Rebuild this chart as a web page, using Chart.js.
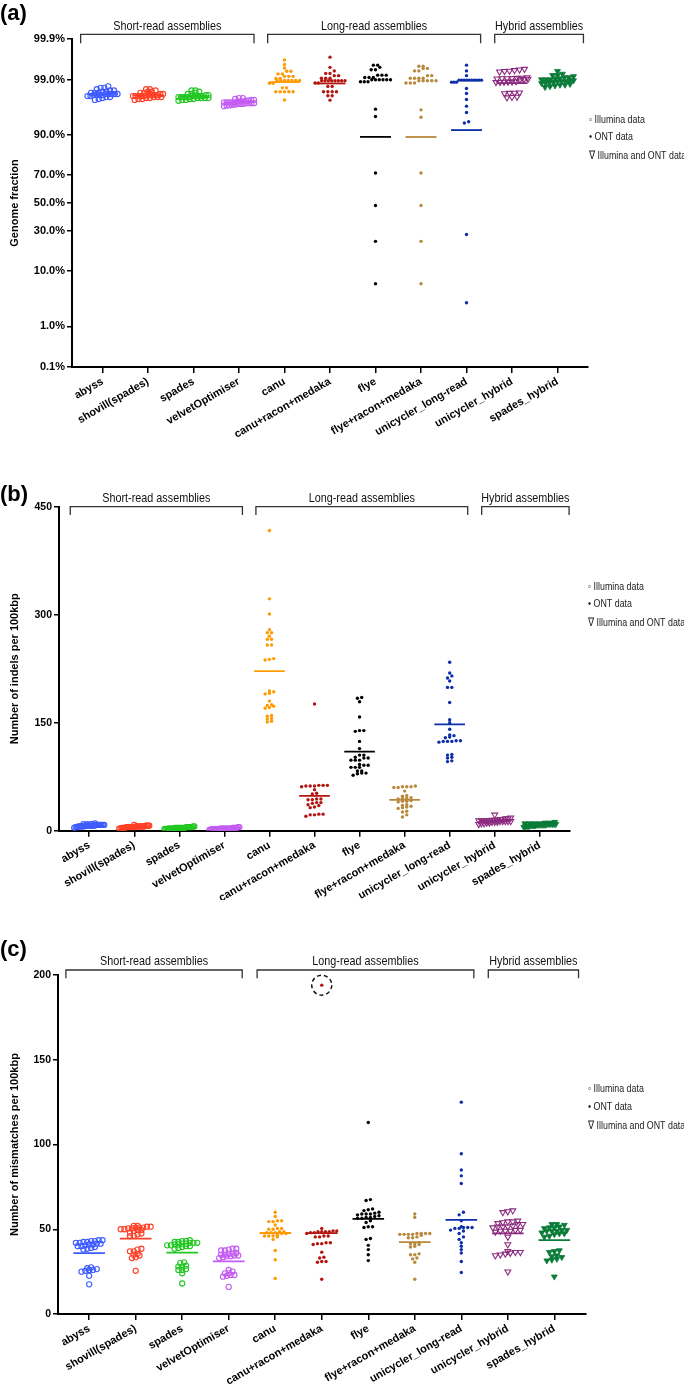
<!DOCTYPE html>
<html><head><meta charset="utf-8">
<script src="https://cdn.jsdelivr.net/npm/chart.js@4.4.1/dist/chart.umd.min.js"></script>
<style>
html,body{margin:0;padding:0;background:#fff;}
canvas{display:block;}
</style></head>
<body>
<canvas id="cA" width="684" height="455"></canvas>
<canvas id="cB" width="684" height="445"></canvas>
<canvas id="cC" width="684" height="485"></canvas>
<script>
// ---------------- DATA ----------------
const categories = ['abyss','shovill(spades)','spades','velvetOptimiser','canu','canu+racon+medaka','flye','flye+racon+medaka','unicycler_long-read','unicycler_hybrid','spades_hybrid'];
const groupLabels = ['Short-read assemblies','Long-read assemblies','Hybrid assemblies'];
const legendLabels = ['\u25E6 Illumina data','\u2022 ONT data','\u2207 Illumina and ONT data'];

// (a) genome fraction, %
const fractionTicks = [0.1, 1, 10, 30, 50, 70, 90, 99, 99.9];
const fractionTickLabels = ['0.1%','1.0%','10.0%','30.0%','50.0%','70.0%','90.0%','99.0%','99.9%'];
const fracAbyss = [98.6,98.5,98.5,98.4,98.3,98.3,98.2,98.2,98.1,98.1,98.1,98.0,98.0,98.0,98.0,98.0,97.9,97.9,97.9,97.9,97.8,97.8,97.7,97.7,97.6,97.5,97.4];
const fracShovill = [98.4,98.4,98.3,98.2,98.2,98.1,98.1,98.0,98.0,97.9,97.9,97.9,97.9,97.9,97.8,97.8,97.8,97.8,97.8,97.7,97.7,97.7,97.6,97.6,97.5,97.5,97.4];
const fracSpades = [98.3,98.3,98.2,98.1,98.0,98.0,97.9,97.9,97.8,97.8,97.8,97.8,97.8,97.7,97.7,97.7,97.7,97.7,97.6,97.6,97.6,97.6,97.5,97.5,97.4,97.4,97.3];
const fracVelvet = [97.6,97.6,97.5,97.4,97.4,97.3,97.3,97.2,97.2,97.2,97.1,97.1,97.1,97.1,97.1,97.0,97.0,97.0,97.0,96.9,96.9,96.9,96.8,96.8,96.7,96.7,96.6];
const fracCanu = [99.65,99.55,99.45,99.35,99.35,99.25,99.25,99.15,99.15,99.15,99.05,99.05,98.95,98.95,98.95,98.95,98.95,98.95,98.95,98.8,98.8,98.5,98.5,98.2,98.2,98.2,98.2,98.2,97.4];
const fracCanuRacon = [99.7,99.47,99.36,99.27,99.27,99.18,99.18,99.06,99.06,99.06,98.94,98.94,98.94,98.94,98.94,98.94,98.94,98.94,98.81,98.81,98.6,98.6,98.2,98.2,98.2,98.2,97.83,97.83,97.37];
const fracFlye = [99.53,99.53,99.47,99.4,99.4,99.2,99.2,99.2,99.1,99.1,99.1,98.99,98.99,98.99,98.99,98.99,98.99,98.88,98.88,98.88,96.15,94.85,71.4,48.1,23.5,6.4];
const fracFlyeRacon = [99.5,99.5,99.44,99.44,99.36,99.36,99.18,99.18,99.06,99.06,99.06,99.06,98.94,98.94,98.94,98.94,98.94,98.81,98.81,98.81,96.04,94.7,71.4,48.1,23.5,6.4];
const fracUnicyclerLong = [99.53,99.36,99.18,98.97,98.97,98.97,98.97,98.97,98.97,98.97,98.97,98.97,98.97,98.86,98.86,98.86,98.45,98.05,97.45,96.6,95.6,93.7,93.4,27.6,3.0];
const fracUnicyclerHybrid = [99.42,99.4,99.38,99.36,99.35,99.33,99.1,99.08,99.07,99.06,99.05,99.05,99.04,99.03,99.02,99.0,98.9,98.89,98.88,98.87,98.86,98.85,98.12,98.1,98.08,98.05,97.72,97.7,97.65];
const fracSpadesHybrid = [99.35,99.25,99.2,99.2,99.15,99.1,99.1,99.05,99.05,99.0,99.0,99.0,98.95,98.95,98.9,98.9,98.9,98.85,98.85,98.8,98.8,98.75,98.7,98.7,98.65,98.6,98.55];

// (b) indels per 100 kbp
const indelTicks = [0, 150, 300, 450];
const indelAbyss = [10,9,9,9,8,8,8,8,8,8,8,7,7,7,7,7,7,7,7,6,6,6,6,6,5,5,4];
const indelShovill = [8,7,7,7,7,6,6,6,6,6,6,6,6,5,5,5,5,5,5,5,5,4,4,4,4,3,3];
const indelSpades = [6,6,5,5,5,5,5,5,4,4,4,4,4,4,4,4,4,4,3,3,3,3,3,3,2,2,2];
const indelVelvet = [5,5,4,4,4,4,4,3,3,3,3,3,3,3,3,3,3,3,2,2,2,2,2,2,2,1,1];
const indelCanu = [417,322,301,279,275,275,270,266,266,258,258,239,238,237,194,193,191,190,180,175,174,173,171,170,160,159,156,155,152,151];
const indelCanuRacon = [176,63,63,63,62,62,62,61,57,52,51,44,44,43,43,39,39,38,36,35,33,32,23,23,22,22,20];
const indelFlye = [185,184,179,158,139,139,138,124,114,105,105,102,101,101,98,98,98,92,91,91,88,88,88,83,83,80,80,79,77];
const indelFlyeRacon = [62,61,61,61,60,60,55,49,48,46,45,45,44,42,41,41,40,36,35,34,33,32,31,27,26,22,19];
const indelUnicyclerLong = [234,219,215,212,208,199,199,178,154,150,141,133,132,130,129,125,125,124,124,124,123,106,105,102,101,97,96];
const indelUnicyclerHybrid = [22,18,17,17,16,16,15,15,15,14,14,14,14,14,13,13,13,13,13,12,12,12,11,11,10,10,9];
const indelSpadesHybrid = [12,11,11,10,10,10,10,9,9,9,9,9,9,8,8,8,8,8,8,7,7,7,7,6,6,6,5];

// (c) mismatches per 100 kbp
const mismatchTicks = [0, 50, 100, 150, 200];
const mismAbyss = [43.5,43.5,43,43,42.5,42.5,42,42,41.5,41.5,41,41,40.5,40,40,39.5,39,38.5,38,27.5,27,26.5,26,26,25.5,25,22.5,17.5];
const mismShovill = [52,52,51.5,51.5,51,51,51,50.5,50.5,50,50,49.5,49.5,49,48,47.5,47,46,46,38.5,38,37,37,35.5,35,34.5,33.5,33,25.5];
const mismSpades = [43.5,43,43,42.5,42.5,42,42,42,41.5,41.5,41,41,40.5,40.5,40,40,39.5,39,38.5,30.5,30,28.5,28,28,26.5,26,26,24,18];
const mismVelvet = [38.5,38.5,38,37.5,37.5,36,35.5,35.5,35,35,34.5,34.5,34,34,33.5,33,26,25,24,24,23,23,22.5,22,16];
const mismCanu = [60,57.5,55,55,54.5,54.5,52.5,50.5,50.5,50,50,48.5,48.5,48,48,48,47.5,47.5,46.5,46,46,46,45.5,44,37.5,32,21];
const mismCanuRacon = [194,50.5,49,49,48.5,48.5,48.5,48.5,48,48,47.5,46,46,45.5,45.5,42,42,41.5,41.5,41,36.5,33.5,33,31,31,30.5,20.5];
const mismFlye = [113,67.5,67,62,61.5,61,60,59.5,59,59,59,58.5,58,57.5,57,57,56.5,56.5,55,54,51.5,51.5,51,44.5,44,40.5,38,35,31.5];
const mismFlyeRacon = [59,57,47.5,47.5,47.5,47.5,47,47,47,47,46.5,45.5,45,45,42,41.5,41.5,41,40,39.5,35.5,35,35,33,32.5,30.5,20.5];
const mismUnicyclerLong = [125,94.5,85,81.5,77,60,58.5,55,51.5,51,51,51,50.5,50.5,49.5,49,47.5,45.5,44,42,40,38,36,31,24.5];
const mismUnicyclerHybrid = [61,60.5,60,55,54.5,54.5,54,53.5,53,53,52,51.5,51.5,51.5,51,49.5,49.5,49,49,49,48.5,45.5,41,37,36.5,36.5,36,35.5,35,34.5,25];
const mismSpadesHybrid = [53,53,52.5,51.5,51,51,50.5,49.5,49.5,49,49,49,48,47.5,47.5,47,46,45.5,37.5,37,36.5,34.5,34,33.5,32.5,32,31.5,22];

// ---------------- STYLE ----------------
const groupColors = ['#3d5bff','#ff3f25','#22c722','#c35cf2','#ff9a00','#b3150f','#000000','#b7893b','#0c2eaa','#8c2a7f','#0b7b38'];
const markerKinds = ['open','open','open','open','dot','dot','dot','dot','dot','triOpen','tri'];
const swarmCfg = {open:{h:3,s:3.8,w:30}, dot:{h:2.8,s:4.3,w:30}, triOpen:{h:3.5,s:5,w:32}, tri:{h:3.5,s:5,w:32}};
const FONT = '"Liberation Sans", Arial, Helvetica, sans-serif';
Chart.defaults.font.family = FONT;
Chart.defaults.color = '#000';

function probit(p){
  const a=[-3.969683028665376e+01,2.209460984245205e+02,-2.759285104469687e+02,1.383577518672690e+02,-3.066479806614716e+01,2.506628277459239e+00];
  const b=[-5.447609879822406e+01,1.615858368580409e+02,-1.556989798598866e+02,6.680131188771972e+01,-1.328068155288572e+01];
  const c=[-7.784894002430293e-03,-3.223964580411365e-01,-2.400758277161838e+00,-2.549732539343734e+00,4.374664141464968e+00,2.938163982698783e+00];
  const d=[7.784695709041462e-03,3.224671290700398e-01,2.445134137142996e+00,3.754408661907416e+00];
  const pl=0.02425, ph=1-pl; let q,r;
  if(p<pl){q=Math.sqrt(-2*Math.log(p));return (((((c[0]*q+c[1])*q+c[2])*q+c[3])*q+c[4])*q+c[5])/((((d[0]*q+d[1])*q+d[2])*q+d[3])*q+1);}
  if(p<=ph){q=p-0.5;r=q*q;return (((((a[0]*r+a[1])*r+a[2])*r+a[3])*r+a[4])*r+a[5])*q/(((((b[0]*r+b[1])*r+b[2])*r+b[3])*r+b[4])*r+1);}
  q=Math.sqrt(-2*Math.log(1-p));return -(((((c[0]*q+c[1])*q+c[2])*q+c[3])*q+c[4])*q+c[5])/((((d[0]*q+d[1])*q+d[2])*q+d[3])*q+1);
}

const MEAN_HALF = 0.34;

function buildDatasets(series, tf){
  const ds = [];
  series.forEach((vals, i) => {
    const kind = markerKinds[i], col = groupColors[i];
    const d = {type:'scatter', data: vals.map(v => ({x:i, y:tf(v)})), swarm: swarmCfg[kind], order: 1,
      pointBorderColor: col, pointHoverRadius: 0};
    if (kind === 'open') Object.assign(d, {pointStyle:'circle', pointRadius:2.6, pointBorderWidth:1.1, pointBackgroundColor:'rgba(255,255,255,0)'});
    else if (kind === 'dot') Object.assign(d, {pointStyle:'circle', pointRadius:1.7, pointBorderWidth:0, pointBackgroundColor: col});
    else if (kind === 'triOpen') Object.assign(d, {pointStyle:'triangle', pointRotation:180, pointRadius:3.4, pointBorderWidth:1.1, pointBackgroundColor:'rgba(255,255,255,0)'});
    else Object.assign(d, {pointStyle:'triangle', pointRotation:180, pointRadius:3.4, pointBorderWidth:0.8, pointBackgroundColor: col});
    ds.push(d);
  });
  series.forEach((vals, i) => {
    const m = vals.reduce((s, v) => s + v, 0) / vals.length;
    ds.push({type:'line', data:[{x:i-MEAN_HALF, y:tf(m)}, {x:i+MEAN_HALF, y:tf(m)}], borderColor: groupColors[i],
      borderWidth:1.8, pointRadius:0, pointHoverRadius:0, fill:false, order:0});
  });
  return ds;
}

const swarmPlugin = {
  id: 'swarm',
  afterDatasetsUpdate(chart){
    chart.data.datasets.forEach((ds, di) => {
      if (!ds.swarm) return;
      const els = chart.getDatasetMeta(di).data;
      const idx = els.map((e, i) => i).sort((p, q) => els[q].y - els[p].y);
      const rows = []; let cur = []; let start = null;
      idx.forEach(i => {
        const y = els[i].y;
        if (start === null || Math.abs(y - start) > ds.swarm.h) { if (cur.length) rows.push(cur); cur = [i]; start = y; }
        else cur.push(i);
      });
      if (cur.length) rows.push(cur);
      rows.forEach(r => {
        const n = r.length;
        const s = n > 1 ? Math.min(ds.swarm.s, ds.swarm.w / (n - 1)) : 0;
        r.forEach((i, k) => { els[i].x += (k - (n - 1) / 2) * s; });
      });
    });
  }
};

// condensed text (the original uses a narrow face)
function narrowText(ctx, text, x, y, size, align, sx){
  ctx.save();
  ctx.translate(x, y);
  ctx.scale(sx, 1);
  ctx.font = size + 'px ' + FONT;
  ctx.textAlign = align;
  ctx.textBaseline = 'middle';
  ctx.fillText(text, 0, 0);
  ctx.restore();
}

function annotPlugin(p){
  return {
    id: 'annot',
    afterDraw(chart){
      const {ctx, chartArea, scales:{x}} = chart;
      ctx.save();
      ctx.fillStyle = '#000';
      ctx.textBaseline = 'middle';
      ctx.textAlign = 'left';
      ctx.font = 'bold 22px ' + FONT;
      ctx.fillText(p.label, 0, p.labelY);
      // group brackets
      p.brackets.forEach((b, k) => {
        const x0 = x.getPixelForValue(b[0]), x1 = x.getPixelForValue(b[1]);
        const y0 = chartArea.top + p.bracketDy;
        ctx.strokeStyle = '#333'; ctx.lineWidth = 1.3;
        ctx.beginPath();
        ctx.moveTo(x0, y0 + p.bracketH); ctx.lineTo(x0, y0); ctx.lineTo(x1, y0); ctx.lineTo(x1, y0 + p.bracketH);
        ctx.stroke();
        ctx.fillStyle = '#111';
        narrowText(ctx, groupLabels[k], (x0 + x1) / 2, y0 - p.textGap, 13.5, 'center', 0.8);
      });
      // legend text
      ctx.fillStyle = '#222';
      legendLabels.forEach((t, k) => narrowText(ctx, t, p.legendX, p.legendY[k], 11.5, 'left', 0.77));
      // highlighted outlier
      if (p.highlight !== undefined) {
        const vals = p.series[p.highlight];
        const mi = vals.indexOf(Math.max(...vals));
        const el = chart.getDatasetMeta(p.highlight).data[mi];
        ctx.setLineDash([4, 3]); ctx.lineWidth = 1.5; ctx.strokeStyle = '#111';
        ctx.beginPath(); ctx.arc(el.x, el.y, 10, 0, Math.PI * 2); ctx.stroke();
      }
      ctx.restore();
    }
  };
}

function makePanel(p){
  const tickFont = {size: p.tickSize, weight:'bold'};
  new Chart(document.getElementById(p.canvas), {
    type: 'scatter',
    data: {datasets: buildDatasets(p.series, p.tf)},
    plugins: [swarmPlugin, annotPlugin(p)],
    options: {
      responsive: false, animation: false, events: [],
      layout: {padding: {top: p.top, right: p.right, left: 0, bottom: 0}},
      plugins: {legend: {display: false}, tooltip: {enabled: false}},
      scales: {
        x: {
          type: 'linear', min: -0.67, max: 10.67,
          afterBuildTicks: s => { s.ticks = categories.map((c, i) => ({value: i})); },
          afterFit: s => { s.height = p.xHeight; },
          ticks: {callback: (v, i) => categories[i], autoSkip: false, maxRotation: 30, minRotation: 30,
                  font: {size: 11, weight: 'bold'}, color: '#000', padding: 2},
          grid: {drawOnChartArea: false, drawTicks: true, tickLength: 6, color: '#000', lineWidth: 1.5},
          border: {color: '#000', width: 2}
        },
        y: {
          type: 'linear', min: p.yTicks[0], max: p.yTicks[p.yTicks.length - 1],
          afterBuildTicks: s => { s.ticks = p.yTicks.map(v => ({value: v})); },
          afterFit: s => { s.width = p.yWidth; },
          ticks: {callback: (v, i) => p.yLabels[i], font: tickFont, color: '#000', padding: 2},
          grid: {drawOnChartArea: false, drawTicks: true, tickLength: 5, color: '#000', lineWidth: 1.5},
          border: {color: '#000', width: 2},
          title: {display: true, text: p.title, font: {size: 11, weight: 'bold'}, color: '#000', padding: {top: 8, bottom: 0}}
        }
      }
    }
  });
}

const fracSeries = [fracAbyss, fracShovill, fracSpades, fracVelvet, fracCanu, fracCanuRacon, fracFlye, fracFlyeRacon, fracUnicyclerLong, fracUnicyclerHybrid, fracSpadesHybrid];
const indelSeries = [indelAbyss, indelShovill, indelSpades, indelVelvet, indelCanu, indelCanuRacon, indelFlye, indelFlyeRacon, indelUnicyclerLong, indelUnicyclerHybrid, indelSpadesHybrid];
const mismSeries = [mismAbyss, mismShovill, mismSpades, mismVelvet, mismCanu, mismCanuRacon, mismFlye, mismFlyeRacon, mismUnicyclerLong, mismUnicyclerHybrid, mismSpadesHybrid];

makePanel({canvas:'cA', series: fracSeries, tf: v => probit(v / 100),
  yTicks: fractionTicks.map(v => probit(v / 100)), yLabels: fractionTickLabels, tickSize: 11,
  title: 'Genome fraction', top: 39, right: 96, yWidth: 72, xHeight: 88,
  label: '(a)', labelY: 14, brackets: [[-0.48, 3.33], [3.63, 8.31], [8.62, 10.57]],
  bracketDy: -4.7, bracketH: 9, textGap: 7.6, legendX: 589, legendY: [120, 137, 156]});

makePanel({canvas:'cB', series: indelSeries, tf: v => v,
  yTicks: indelTicks, yLabels: indelTicks.map(String), tickSize: 10.5,
  title: 'Number of indels per 100kbp', top: 51.7, right: 114, yWidth: 59, xHeight: 69.3,
  label: '(b)', labelY: 40, brackets: [[-0.42, 3.40], [3.70, 8.40], [8.71, 10.65]],
  bracketDy: 0, bracketH: 8.3, textGap: 8.7, legendX: 588, legendY: [131.7, 149, 167.7]});

makePanel({canvas:'cC', series: mismSeries, tf: v => v,
  yTicks: mismatchTicks, yLabels: mismatchTicks.map(String), tickSize: 10.5,
  title: 'Number of mismatches per 100kbp', top: 75, right: 98.5, yWidth: 58, xHeight: 71,
  label: '(c)', labelY: 50, brackets: [[-0.50, 3.29], [3.61, 8.27], [8.58, 10.52]],
  bracketDy: -5, bracketH: 8.3, textGap: 9, legendX: 588, legendY: [188.7, 206.7, 225.7], highlight: 5});
</script>
</body></html>
